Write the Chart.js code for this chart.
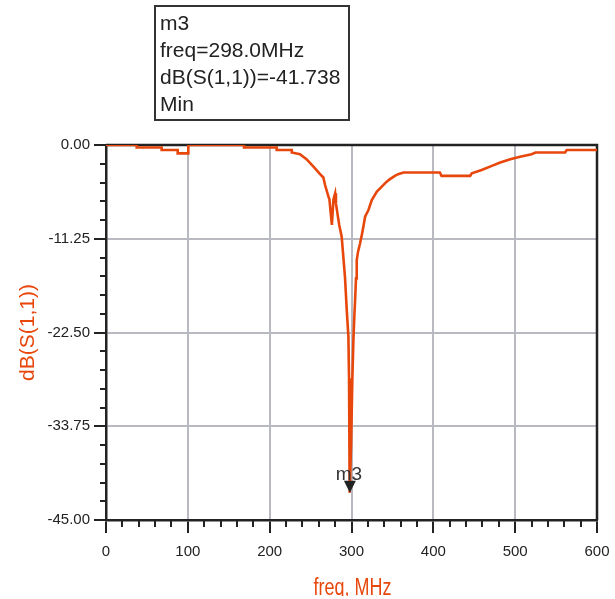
<!DOCTYPE html>
<html>
<head>
<meta charset="utf-8">
<script src="https://cdn.jsdelivr.net/npm/chart.js@4"></script>
<style>
  html, body { margin: 0; padding: 0; background: #fff; }
  #wrap { width: 615px; height: 599px; }
</style>
</head>
<body>
<div id="wrap"><canvas id="s11Chart" width="615" height="599"></canvas></div>
<script>
// S11 sweep (MHz, dB)
const freqMHz = [0, 37.5, 37.5, 68, 68, 87.6, 87.6, 100.6, 100.6, 168.7, 168.7, 208.6, 208.6, 227, 227,
  237, 245, 253.5, 261.6, 265.6, 267.7, 271.8, 273, 276, 278, 280, 281, 282.8, 285, 288, 290, 292,
  294.2, 296.2, 297, 297.5, 298, 299.5, 301, 302.3, 303.5, 304.4, 305.5, 306.4, 308, 310.5, 312.6,
  314.5, 316.6, 320.7, 324.8, 331, 337, 343, 347, 353, 357, 363.5, 408, 410, 445, 447, 459, 471.5,
  481.7, 494, 506, 520, 525, 561, 563, 600];
const s11dB = [0, 0, -0.3, -0.3, -0.6, -0.6, -1.0, -1.0, 0, 0, -0.3, -0.3, -0.6, -0.6, -0.9,
  -1.1, -1.7, -2.6, -3.5, -3.9, -4.8, -6.2, -6.5, -9.6, -6.5, -5.8, -7.0, -8.2, -9.6, -11.0, -13.4, -15.8,
  -19.8, -23.0, -28, -35, -41.738, -36, -28.2, -23.5, -20.5, -18.6, -16, -13.8, -12.8, -11.8, -10.8,
  -9.8, -8.6, -7.8, -6.6, -5.6, -5.0, -4.4, -4.1, -3.7, -3.5, -3.3, -3.3, -3.7, -3.7, -3.4, -3.0, -2.5,
  -2.1, -1.7, -1.4, -1.1, -0.9, -0.9, -0.6, -0.6];

const xTicks = [0, 100, 200, 300, 400, 500, 600];
const yTicks = [0, -11.25, -22.5, -33.75, -45];
const xMinorStep = 20;
const yMinorStep = 2.25;

const markerName = "m3";
const markerFreq = 298.0;
const markerDb = -41.738;
const markerMode = "Min";
const xTitle = "freq, MHz";
const yTitle = "dB(S(1,1))";

const ORANGE = "#e8470c";
const INK = "#222";
const GRID = "#b9bac1";
const FONT = "'Liberation Sans', Arial, sans-serif";

const decor = {
  id: "decor",
  beforeDatasetsDraw(chart) {
    const { ctx, chartArea: a, scales: { x, y } } = chart;
    ctx.save();
    ctx.strokeStyle = INK;
    ctx.lineWidth = 2;
    for (let v = x.min; v <= x.max; v += xMinorStep) {
      if (xTicks.includes(v)) continue;
      const px = Math.round(x.getPixelForValue(v));
      ctx.beginPath(); ctx.moveTo(px, a.bottom); ctx.lineTo(px, a.bottom + 7); ctx.stroke();
    }
    for (let i = 1; i * yMinorStep < -y.min; i++) {
      const v = -i * yMinorStep;
      if (yTicks.some(t => Math.abs(t - v) < 1e-6)) continue;
      const py = Math.round(y.getPixelForValue(v));
      ctx.beginPath(); ctx.moveTo(a.left, py); ctx.lineTo(a.left - 6, py); ctx.stroke();
    }
    // top / right frame
    ctx.lineWidth = 2.5;
    ctx.beginPath();
    ctx.moveTo(a.left, a.top); ctx.lineTo(a.right, a.top); ctx.lineTo(a.right, a.bottom);
    ctx.stroke();
    ctx.restore();
  },
  afterDatasetsDraw(chart) {
    const { ctx, chartArea: a } = chart;
    const pt = chart.getDatasetMeta(1).data[0];
    ctx.save();
    ctx.fillStyle = INK;
    ctx.beginPath();
    ctx.moveTo(pt.x, pt.y);
    ctx.lineTo(pt.x - 6, pt.y - 12);
    ctx.lineTo(pt.x + 6, pt.y - 12);
    ctx.closePath();
    ctx.fill();
    ctx.fillStyle = "#333";
    ctx.font = `19px ${FONT}`;
    ctx.textAlign = "center";
    ctx.textBaseline = "alphabetic";
    ctx.fillText(markerName, pt.x - 1, pt.y - 13);

    // marker readout box
    ctx.fillStyle = INK;
    ctx.strokeStyle = "#333";
    ctx.lineWidth = 2;
    ctx.strokeRect(155, 6, 194, 114);
    ctx.font = `21px ${FONT}`;
    ctx.textAlign = "left";
    const lines = [markerName, `freq=${markerFreq.toFixed(1)}MHz`, `dB(S(1,1))=${markerDb.toFixed(3)}`, markerMode];
    lines.forEach((t, i) => ctx.fillText(t, 160, 30 + i * 27));

    // x axis title, narrow face, clipped at the bottom as in the source
    ctx.beginPath();
    ctx.rect(0, 0, chart.width, 596);
    ctx.clip();
    ctx.fillStyle = ORANGE;
    ctx.font = `23px ${FONT}`;
    ctx.textAlign = "center";
    ctx.translate((a.left + a.right) / 2 + 1, 595);
    ctx.scale(0.78, 1);
    ctx.fillText(xTitle, 0, 0);
    ctx.restore();
  }
};

const tickFont = { family: FONT, size: 15 };

new Chart(document.getElementById("s11Chart"), {
  type: "scatter",
  data: {
    datasets: [
      {
        label: yTitle,
        data: freqMHz.map((f, i) => ({ x: f, y: s11dB[i] })),
        showLine: true,
        borderColor: ORANGE,
        borderWidth: 2.6,
        pointRadius: 0,
        tension: 0
      },
      {
        label: markerName,
        data: [{ x: markerFreq, y: markerDb }],
        pointRadius: 0
      }
    ]
  },
  options: {
    responsive: false,
    animation: false,
    layout: { padding: { top: 145, right: 18, left: 0, bottom: 0 } },
    plugins: { legend: { display: false }, tooltip: { enabled: false } },
    scales: {
      x: {
        type: "linear", min: 0, max: 600,
        afterBuildTicks: s => { s.ticks = xTicks.map(v => ({ value: v })); },
        afterFit: s => { s.height = 79; s.paddingLeft = 0; s.paddingRight = 0; },
        ticks: { color: INK, font: tickFont, padding: 10, maxRotation: 0 },
        grid: { color: GRID, lineWidth: 2, tickLength: 13, tickColor: INK, tickWidth: 2 },
        border: { color: INK, width: 2.5 },
        title: { display: false }
      },
      y: {
        type: "linear", min: -45, max: 0,
        afterBuildTicks: s => { s.ticks = yTicks.map(v => ({ value: v })); },
        afterFit: s => { s.width = 106; s.paddingTop = 0; s.paddingBottom = 0; },
        ticks: { color: INK, font: tickFont, padding: 4, callback: v => v.toFixed(2) },
        grid: { color: GRID, lineWidth: 2, tickLength: 12, tickColor: INK, tickWidth: 2 },
        border: { color: INK, width: 2.5 },
        title: { display: true, text: yTitle, color: ORANGE, font: { family: FONT, size: 21 }, padding: { top: 16, bottom: 0 } }
      }
    }
  },
  plugins: [decor]
});
</script>
</body>
</html>
